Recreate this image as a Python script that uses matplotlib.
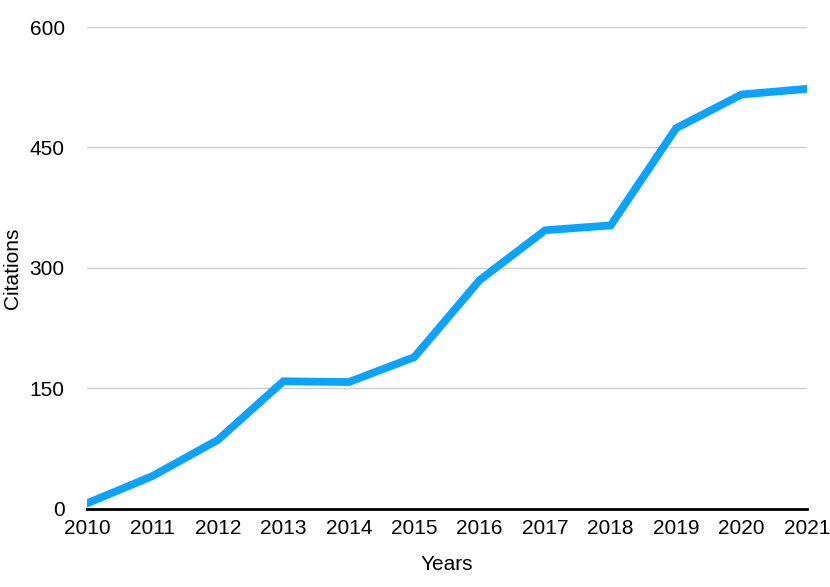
import matplotlib
matplotlib.use('Agg')
import matplotlib.pyplot as plt

years = [2010, 2011, 2012, 2013, 2014, 2015, 2016, 2017, 2018, 2019, 2020, 2021]
citations = [7, 41, 86, 159, 158, 189, 285, 347, 353, 474, 516, 523]
yticks = [0, 150, 300, 450, 600]

plt.rcParams['font.family'] = ['Liberation Sans', 'DejaVu Sans']

fig = plt.figure(figsize=(8.3, 5.87), dpi=100)
ax = fig.add_axes([0.1048, 0.1329, 0.8675, 0.8211])

ax.plot(years, citations, color='#0aa3ff', lw=5.6, solid_joinstyle='miter', zorder=3)

ax.set_xlim(2010, 2021)
ax.set_ylim(0, 600)
ax.set_xticks(years)
ax.set_yticks(yticks)
ax.grid(axis='y', color='#cccccc', lw=1)
ax.set_axisbelow(True)
for s in ['top', 'right', 'left']:
    ax.spines[s].set_visible(False)
ax.spines['bottom'].set_linewidth(2)
ax.spines['bottom'].set_color('black')
ax.spines['bottom'].set_zorder(4)
ax.tick_params(length=0, labelsize=15)
ax.tick_params(axis='y', pad=16)
ax.tick_params(axis='x', pad=7)
ax.set_xlabel('Years', fontsize=15)
ax.set_ylabel('Citations', fontsize=15)
ax.xaxis.set_label_coords(0.5, -0.115)
ax.yaxis.set_label_coords(-0.104, 0.5)
ax.xaxis.label.set_va('center')
ax.yaxis.label.set_va('center')

fig.savefig('out.png', dpi=100)
